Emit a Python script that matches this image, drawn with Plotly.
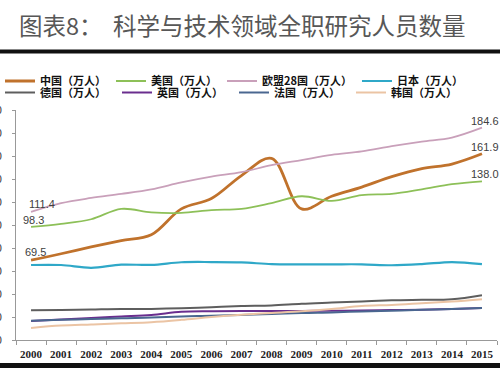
import plotly.graph_objects as go

years = [str(y) for y in range(2000, 2016)]

china = [69.5, 75, 81, 86.5, 91.5, 114, 123, 143, 158, 114, 125, 133, 142, 149, 153, 161.9]
usa = [98.3, 101, 105, 114, 111, 110.5, 113, 114, 119, 125, 121, 126, 127, 131, 135.5, 138.0]
eu28 = [111.4, 119, 123.5, 127, 131, 137, 142, 146, 152, 156.5, 161, 164, 168.5, 172.5, 176, 184.6]
japan = [65.2, 65.2, 62.8, 65.5, 65.3, 67.6, 67.8, 67.5, 66, 65.8, 65.8, 65.8, 65, 66, 67.8, 66]
germany = [25.8, 26, 26.5, 27, 27, 27.5, 28.5, 29.5, 30, 31.5, 32.5, 33.5, 34.5, 35, 35.5, 39]
uk = [16.5, 17.8, 19.2, 20.5, 21.8, 24.5, 25, 25.3, 25.2, 25.3, 25.5, 25.6, 26, 26.3, 27, 27.8]
france = [16.8, 17.5, 18.2, 19, 19.5, 20.5, 21, 21.8, 22.5, 23.5, 24, 24.8, 25.5, 26.2, 27, 27.8]
korea = [10.5, 12.5, 13.5, 14.5, 15.5, 17.5, 20, 22, 23.5, 25, 27, 29.5, 30.5, 32, 33.5, 35.5]

names = ["中国（万人）", "美国（万人）", "欧盟28国（万人）", "日本（万人）",
         "德国（万人）", "英国（万人）", "法国（万人）", "韩国（万人）"]
values = [china, usa, eu28, japan, germany, uk, france, korea]
colors = ["#C0722C", "#8DC058", "#C9A0BA", "#2FA8C8",
          "#5E5E5E", "#6A2E8E", "#4A6790", "#EBC4A4"]
widths = [2.8, 1.8, 1.8, 2.2, 2.0, 2.0, 2.0, 2.0]
legends = ["legend"] * 4 + ["legend2"] * 4

PLOT_TOP, PLOT_BOTTOM, PLOT_LEFT = 110, 340, 16
PLOT_H = PLOT_BOTTOM - PLOT_TOP


def py(pix):
    """pixel row -> paper y"""
    return (PLOT_BOTTOM - pix) / PLOT_H


fig = go.Figure()
for n, v, c, w, lg in zip(names, values, colors, widths, legends):
    fig.add_trace(go.Scatter(x=years, y=v, name=n, mode="lines",
                             line=dict(color=c, width=w, shape="spline", smoothing=1.0),
                             legend=lg, hoverinfo="skip"))

# data labels (category index positions)
lab_font = dict(family="Liberation Sans, Arial", size=11, color="#404040")
first, last = 0, len(years) - 1
for arr, xs, ys in [(eu28, 11, 8), (usa, 2, 7), (china, 4, 8)]:
    fig.add_annotation(x=first, y=arr[0], xref="x", yref="y", text=f"{arr[0]:.1f}",
                       showarrow=False, xshift=xs, yshift=ys, font=lab_font)
for arr in (eu28, china, usa):
    fig.add_annotation(x=last, y=arr[-1], xref="x", yref="y", text=f"{arr[-1]:.1f}",
                       showarrow=False, xshift=3, yshift=7, font=lab_font)

# title
fig.add_annotation(xref="paper", yref="paper", x=(17 - PLOT_LEFT) / 481, y=py(25),
                   text="图表8：\u00a0\u00a0科学与技术领域全职研究人员数量",
                   showarrow=False, xanchor="left", yanchor="middle",
                   font=dict(family="Noto Sans CJK SC", size=23.5, color="#575757"))

leg_common = dict(orientation="h", xref="container", yref="container",
                  xanchor="left", yanchor="middle", x=0,
                  font=dict(family="Noto Sans CJK SC", size=11, color="#111111", weight="bold"),
                  bgcolor="rgba(0,0,0,0)", itemwidth=30, tracegroupgap=0)

fig.update_layout(
    width=500, height=368,
    margin=dict(l=PLOT_LEFT, r=3, t=PLOT_TOP, b=368 - PLOT_BOTTOM, pad=0),
    paper_bgcolor="white", plot_bgcolor="white",
    showlegend=True,
    legend=dict(**leg_common, y=1 - 81 / 368),
    legend2=dict(**leg_common, y=1 - 92.5 / 368, entrywidth=72, entrywidthmode="pixels"),
    xaxis=dict(type="category", tickson="boundaries", ticks="outside", ticklen=4,
               tickcolor="#999999", showline=True, linecolor="#999999", linewidth=1,
               showgrid=False, zeroline=False, tickangle=0, automargin=False,
               ticklabelstandoff=4,
               tickfont=dict(family="Liberation Serif", size=11, color="#222222", weight="bold"),
               range=[-0.5, 15.5]),
    yaxis=dict(range=[0, 200], dtick=20, ticks="outside", ticklen=3,
               tickcolor="#999999", showline=True, linecolor="#999999", linewidth=1,
               showgrid=False, zeroline=False, automargin=False,
               ticklabelstandoff=8,
               tickfont=dict(family="Liberation Sans", size=11, color="#333333")),
)

# title rule and bottom bar
fig.add_shape(type="line", xref="paper", yref="paper", x0=-0.1, x1=1.1,
              y0=py(51.5), y1=py(51.5), line=dict(color="#111111", width=4))
fig.add_shape(type="rect", xref="paper", yref="paper", x0=-0.1, x1=1.1,
              y0=py(363), y1=py(372), line=dict(width=0), fillcolor="#111111")

fig.write_html("out.html", config={"displayModeBar": False},
               post_script="document.body.style.margin='0';")
